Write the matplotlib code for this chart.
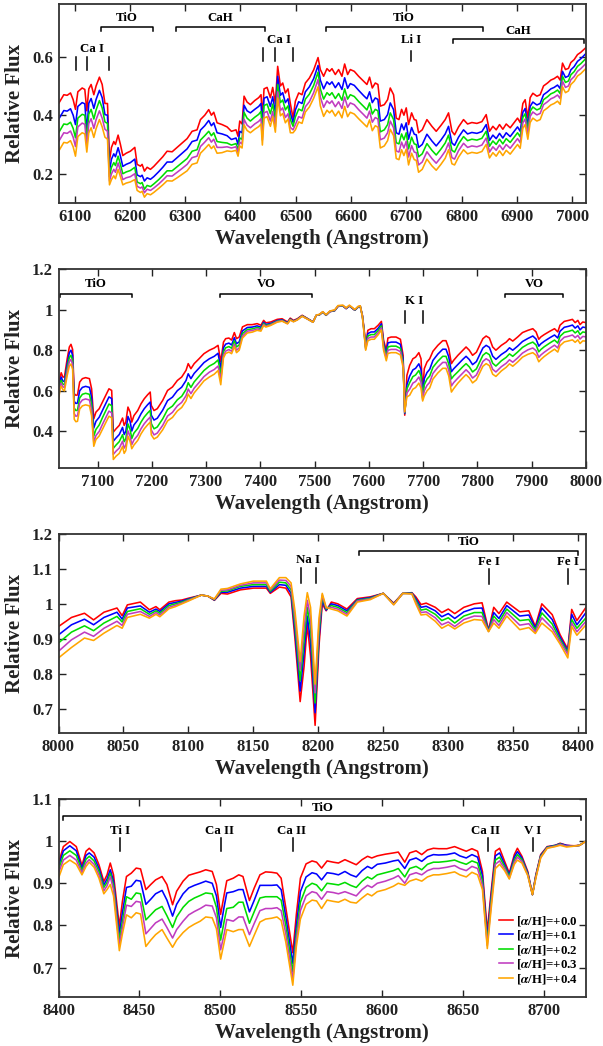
import matplotlib
matplotlib.use("Agg")
import matplotlib.pyplot as plt
from matplotlib.ticker import FuncFormatter

plt.rcParams['font.family'] = ['Liberation Serif', 'DejaVu Serif']
plt.rcParams['font.weight'] = 'bold'
plt.rcParams['mathtext.fontset'] = 'stix'

# ---------------- data ----------------
series_labels = [r'[$\alpha$/H]=+0.0', r'[$\alpha$/H]=+0.1', r'[$\alpha$/H]=+0.2',
                 r'[$\alpha$/H]=+0.3', r'[$\alpha$/H]=+0.4']
series_colors = ['#ff0000', '#0000ff', '#00dd00', '#c03cc0', '#ffa500']

# panel 1 : 6070 - 7025 A
wl1 = [6070, 6080.6, 6086.7, 6092.7, 6097.5, 6101.7, 6106, 6113.8, 6118.6, 6122.2,
       6125.8, 6130, 6134.9, 6139, 6145, 6150, 6155, 6159.6, 6163.2, 6166.8,
       6171, 6174, 6178.8, 6183, 6187.3, 6193.3, 6201, 6209, 6213.2, 6219.2,
       6222.2, 6226.4, 6231.3, 6237.3, 6243.3, 6252.3, 6259.6, 6267.4, 6276.5, 6285.5,
       6294.5, 6303.6, 6312.6, 6321.6, 6327.7, 6335.5, 6342.7, 6347.5, 6351.8, 6357.8,
       6366.8, 6375.9, 6383.7, 6392.1, 6395.7, 6398.8, 6403, 6406.6, 6412, 6418,
       6425.9, 6433.1, 6437.3, 6439.7, 6442.7, 6448.2, 6454.2, 6458.4, 6463.2, 6467.4,
       6472.3, 6476.5, 6481.3, 6486.1, 6490.3, 6495.2, 6499.4, 6505.4, 6511.4, 6517.5,
       6524.7, 6532.5, 6540.4, 6544.5, 6550.5, 6556.5, 6561.3, 6565.6, 6571.6, 6577.6,
       6583.6, 6588.5, 6593.9, 6598.7, 6605.9, 6613.8, 6622.8, 6628.8, 6633.6, 6638.5,
       6643.9, 6648.7, 6653, 6660.2, 6666.2, 6671, 6677, 6681.8, 6686.7, 6691.5,
       6695.7, 6699.9, 6704.1, 6709.6, 6714.4, 6718, 6722.2, 6728.8, 6737.3, 6746.3,
       6754.1, 6762.6, 6770.4, 6776.4, 6782.5, 6787.3, 6794.5, 6803.5, 6810.8, 6818.6,
       6827.7, 6836.7, 6844.5, 6850.5, 6856.6, 6862.6, 6868.6, 6874.6, 6880.7, 6887.9,
       6895.1, 6901.2, 6906, 6910.8, 6915, 6919.8, 6924, 6928.9, 6936.1, 6942.1,
       6948.2, 6955.4, 6961.4, 6967.4, 6973.5, 6978.3, 6982.5, 6987.9, 6993.3, 6997.6,
       7003.6, 7009.6, 7015.6, 7025.5]
p1_a00 = [.436, .470, .468, .476, .453, .420, .480, .493, .488, .415,
          .490, .505, .470, .500, .530, .505, .440, .440, .245, .290,
          .310, .300, .332, .300, .262, .270, .277, .290, .232, .226,
          .232, .209, .222, .215, .225, .243, .258, .277, .275, .290,
          .305, .320, .345, .350, .385, .400, .419, .400, .410, .374,
          .368, .360, .345, .350, .328, .380, .370, .465, .445, .436,
          .450, .460, .470, .390, .490, .495, .460, .495, .440, .567,
          .500, .510, .476, .490, .440, .390, .448, .476, .470, .510,
          .527, .555, .597, .556, .533, .559, .550, .559, .539, .556,
          .533, .575, .539, .556, .550, .533, .516, .505, .530, .493,
          .510, .505, .431, .436, .453, .493, .470, .390, .385, .420,
          .400, .425, .368, .408, .385, .383, .340, .350, .385, .362,
          .345, .365, .385, .408, .345, .333, .360, .385, .370, .375,
          .372, .378, .402, .345, .362, .350, .368, .352, .370, .357,
          .375, .390, .375, .440, .453, .390, .460, .475, .465, .470,
          .500, .510, .520, .525, .533, .520, .578, .556, .560, .580,
          .590, .607, .615, .632]
p1_a01 = [.382, .416, .414, .422, .400, .368, .430, .443, .439, .345,
          .441, .457, .423, .454, .485, .460, .402, .400, .210, .250,
          .268, .258, .289, .260, .225, .232, .238, .250, .196, .190,
          .195, .175, .186, .181, .190, .207, .222, .240, .240, .255,
          .270, .285, .310, .315, .349, .364, .382, .364, .374, .340,
          .336, .330, .317, .322, .300, .345, .340, .434, .415, .408,
          .420, .430, .440, .362, .458, .463, .430, .463, .410, .533,
          .468, .477, .443, .456, .408, .375, .418, .446, .440, .480,
          .497, .525, .570, .520, .490, .514, .505, .514, .494, .511,
          .488, .528, .492, .508, .502, .485, .467, .456, .480, .443,
          .459, .454, .380, .385, .402, .442, .419, .340, .335, .370,
          .350, .374, .318, .358, .335, .333, .290, .300, .335, .312,
          .295, .315, .336, .362, .305, .297, .325, .350, .336, .341,
          .338, .344, .368, .314, .332, .320, .338, .322, .340, .327,
          .345, .360, .345, .410, .423, .365, .430, .445, .435, .440,
          .470, .480, .490, .495, .503, .491, .550, .529, .534, .555,
          .566, .584, .593, .612]
p1_a02 = [.336, .370, .368, .376, .355, .323, .390, .403, .400, .317,
          .404, .420, .387, .418, .450, .425, .377, .372, .190, .222,
          .238, .228, .260, .232, .200, .206, .211, .222, .172, .166,
          .170, .147, .160, .156, .165, .180, .194, .210, .210, .224,
          .238, .252, .277, .282, .315, .330, .345, .330, .340, .310,
          .307, .305, .298, .303, .282, .322, .318, .410, .390, .380,
          .393, .403, .413, .337, .433, .438, .405, .438, .385, .505,
          .443, .452, .418, .432, .385, .362, .394, .421, .415, .455,
          .472, .502, .547, .490, .455, .477, .468, .477, .457, .474,
          .451, .490, .455, .470, .464, .447, .430, .418, .442, .404,
          .420, .415, .343, .350, .368, .408, .385, .306, .302, .336,
          .316, .340, .285, .325, .302, .300, .258, .268, .303, .280,
          .264, .284, .305, .332, .280, .274, .302, .327, .313, .318,
          .315, .321, .345, .294, .312, .300, .318, .302, .320, .307,
          .325, .340, .326, .392, .405, .350, .413, .428, .418, .423,
          .453, .463, .473, .478, .486, .474, .533, .512, .517, .538,
          .549, .567, .576, .595]
p1_a03 = [.306, .340, .338, .346, .325, .293, .360, .373, .369, .294,
          .372, .388, .355, .385, .415, .390, .352, .345, .175, .200,
          .215, .205, .237, .210, .180, .186, .190, .200, .157, .151,
          .155, .135, .147, .143, .151, .165, .178, .193, .192, .205,
          .218, .232, .255, .260, .293, .308, .323, .308, .318, .290,
          .290, .292, .288, .292, .272, .308, .302, .386, .366, .357,
          .370, .379, .388, .315, .408, .413, .380, .413, .360, .480,
          .416, .425, .392, .405, .358, .350, .368, .395, .390, .429,
          .446, .477, .522, .462, .427, .449, .440, .449, .429, .446,
          .423, .462, .427, .442, .436, .419, .402, .390, .414, .376,
          .392, .387, .316, .322, .340, .380, .357, .278, .274, .308,
          .288, .311, .257, .296, .274, .272, .230, .240, .275, .252,
          .236, .256, .277, .305, .255, .250, .279, .304, .290, .295,
          .292, .298, .322, .274, .292, .280, .298, .282, .300, .287,
          .305, .320, .306, .374, .387, .335, .396, .411, .401, .406,
          .436, .446, .456, .461, .469, .457, .516, .495, .500, .521,
          .532, .550, .559, .578]
p1_a04 = [.273, .307, .305, .313, .292, .260, .327, .340, .336, .274,
          .340, .357, .324, .354, .385, .360, .325, .318, .162, .180,
          .193, .183, .215, .190, .162, .168, .172, .180, .143, .136,
          .140, .120, .132, .128, .136, .150, .162, .176, .175, .186,
          .198, .210, .232, .237, .270, .285, .300, .286, .295, .270,
          .272, .278, .276, .280, .260, .295, .288, .367, .348, .340,
          .352, .361, .370, .298, .390, .395, .362, .395, .342, .459,
          .398, .406, .374, .387, .340, .340, .350, .377, .372, .411,
          .428, .458, .497, .432, .396, .417, .408, .417, .397, .414,
          .391, .430, .395, .410, .404, .388, .371, .360, .384, .347,
          .364, .359, .288, .295, .313, .352, .330, .252, .248, .282,
          .262, .284, .230, .270, .248, .246, .205, .215, .250, .227,
          .212, .232, .253, .282, .234, .230, .257, .282, .268, .273,
          .270, .276, .300, .254, .272, .260, .278, .262, .280, .267,
          .285, .300, .287, .355, .368, .318, .375, .390, .380, .385,
          .415, .425, .435, .440, .448, .437, .497, .477, .483, .505,
          .516, .534, .542, .561]

# panel 2 : 7028 - 8000 A
wl2 = [7028, 7031, 7033, 7036, 7039, 7044, 7048, 7051, 7054, 7057,
       7060, 7063, 7067, 7072, 7078, 7085, 7089, 7093, 7097, 7103,
       7109, 7115, 7121, 7126, 7129, 7134, 7140, 7146, 7149, 7152,
       7156, 7160, 7163, 7167, 7174, 7180, 7186, 7192, 7197, 7199,
       7204, 7210, 7220, 7229, 7238, 7247, 7255, 7263, 7267, 7272,
       7278, 7287, 7296, 7306, 7315, 7322, 7327, 7332, 7336, 7342,
       7347, 7352, 7356, 7361, 7367, 7376, 7385, 7394, 7401, 7406,
       7410, 7419, 7431, 7440, 7450, 7455, 7461, 7468, 7477, 7487,
       7497, 7503, 7509, 7515, 7521, 7528, 7537, 7543, 7552, 7558,
       7564, 7574, 7580, 7584, 7588, 7591, 7594, 7598, 7604, 7610,
       7617, 7623, 7627, 7632, 7635, 7641, 7650, 7658, 7663, 7666,
       7670, 7675, 7681, 7686, 7692, 7696, 7699, 7702, 7707, 7712,
       7718, 7727, 7736, 7742, 7747, 7752, 7756, 7764, 7773, 7779,
       7785, 7791, 7798, 7804, 7810, 7816, 7822, 7828, 7834, 7844,
       7853, 7859, 7865, 7874, 7883, 7893, 7902, 7908, 7913, 7917,
       7923, 7933, 7942, 7948, 7952, 7960, 7968, 7975, 7980, 7985,
       7989, 7994, 8000]
p2_a00 = [.590, .668, .689, .668, .668, .758, .816, .829, .804, .586,
          .578, .580, .643, .660, .665, .660, .610, .462, .495, .512,
          .545, .578, .610, .602, .397, .413, .430, .466, .430, .446,
          .520, .495, .446, .478, .503, .536, .561, .580, .594, .528,
          .503, .512, .553, .602, .619, .651, .668, .701, .734, .709,
          .734, .758, .783, .800, .811, .824, .742, .840, .857, .860,
          .850, .887, .857, .865, .915, .926, .926, .931, .923, .947,
          .935, .939, .952, .955, .939, .958, .947, .955, .972, .956,
          .940, .972, .975, .988, .972, .990, .995, 1.016, 1.018, 1.005,
          1.018, .997, 1.012, 1.016, .972, .906, .824, .898, .906, .906,
          .923, .942, .849, .800, .860, .865, .865, .854, .775, .480,
          .676, .725, .758, .766, .788, .758, .594, .709, .742, .758,
          .795, .824, .847, .847, .810, .734, .750, .775, .800, .816,
          .800, .775, .790, .824, .857, .870, .860, .816, .800, .824,
          .840, .857, .845, .865, .887, .898, .906, .890, .854, .866,
          .877, .893, .906, .890, .923, .942, .947, .952, .936, .947,
          .926, .939, .936]
p2_a01 = [.578, .650, .668, .648, .646, .732, .788, .800, .775, .548,
          .538, .540, .600, .617, .622, .617, .567, .417, .450, .470,
          .504, .537, .570, .562, .352, .368, .385, .420, .385, .400,
          .474, .449, .402, .432, .456, .487, .512, .531, .545, .480,
          .456, .465, .505, .552, .569, .601, .618, .651, .684, .660,
          .686, .712, .739, .758, .770, .785, .710, .812, .830, .835,
          .826, .862, .832, .841, .895, .912, .914, .920, .913, .938,
          .927, .932, .946, .950, .935, .954, .944, .952, .970, .955,
          .939, .972, .975, .988, .972, .990, .995, 1.016, 1.018, 1.005,
          1.018, .997, 1.012, 1.016, .970, .900, .815, .882, .890, .890,
          .908, .930, .835, .785, .836, .840, .840, .829, .755, .488,
          .630, .672, .703, .711, .733, .705, .575, .660, .690, .706,
          .750, .781, .805, .805, .768, .694, .708, .730, .755, .770,
          .754, .729, .744, .778, .811, .824, .814, .771, .755, .779,
          .795, .812, .800, .820, .843, .858, .870, .855, .820, .832,
          .844, .861, .875, .860, .893, .913, .918, .924, .909, .920,
          .900, .914, .911]
p2_a02 = [.570, .636, .652, .633, .630, .712, .764, .775, .750, .515,
          .503, .505, .565, .583, .588, .583, .533, .377, .410, .432,
          .468, .502, .535, .527, .317, .333, .350, .384, .350, .364,
          .437, .410, .365, .392, .415, .446, .471, .490, .504, .439,
          .413, .422, .462, .508, .525, .556, .573, .607, .640, .617,
          .644, .672, .700, .722, .735, .752, .682, .792, .812, .818,
          .810, .846, .816, .826, .882, .902, .905, .912, .906, .932,
          .922, .928, .943, .947, .933, .952, .942, .951, .969, .954,
          .938, .972, .975, .988, .973, .991, .996, 1.017, 1.019, 1.006,
          1.019, .998, 1.013, 1.017, .968, .895, .810, .870, .877, .877,
          .897, .920, .823, .772, .816, .820, .820, .809, .740, .492,
          .610, .640, .670, .678, .700, .673, .565, .630, .658, .673,
          .716, .746, .770, .770, .733, .659, .673, .694, .719, .734,
          .718, .693, .708, .742, .775, .788, .778, .736, .722, .748,
          .765, .782, .770, .791, .814, .830, .840, .826, .792, .804,
          .817, .835, .850, .835, .868, .888, .893, .899, .885, .896,
          .877, .890, .887]
p2_a03 = [.562, .624, .638, .620, .616, .695, .744, .755, .730, .488,
          .475, .477, .538, .555, .560, .555, .505, .347, .380, .400,
          .435, .468, .500, .492, .287, .303, .318, .352, .318, .332,
          .403, .376, .335, .358, .381, .413, .438, .457, .471, .407,
          .383, .392, .430, .476, .494, .526, .543, .576, .609, .586,
          .613, .641, .670, .692, .705, .722, .655, .775, .796, .803,
          .795, .830, .800, .811, .870, .894, .897, .905, .900, .927,
          .918, .925, .941, .945, .931, .950, .941, .950, .968, .953,
          .938, .972, .976, .989, .974, .992, .997, 1.018, 1.020, 1.007,
          1.020, .999, 1.014, 1.018, .966, .890, .805, .858, .865, .865,
          .886, .910, .812, .760, .800, .804, .804, .793, .728, .495,
          .590, .608, .638, .646, .668, .642, .558, .600, .627, .642,
          .686, .716, .740, .740, .703, .624, .640, .663, .688, .704,
          .688, .663, .678, .712, .745, .758, .748, .706, .693, .719,
          .736, .753, .741, .762, .786, .802, .811, .798, .765, .777,
          .790, .809, .825, .811, .844, .864, .869, .875, .862, .873,
          .855, .868, .866]
p2_a04 = [.555, .610, .623, .606, .600, .675, .722, .732, .707, .460,
          .448, .450, .510, .526, .531, .526, .477, .327, .360, .378,
          .411, .443, .475, .467, .262, .278, .292, .326, .292, .306,
          .377, .350, .315, .333, .356, .388, .413, .432, .446, .383,
          .363, .372, .408, .452, .469, .501, .518, .551, .584, .562,
          .590, .619, .649, .668, .682, .700, .630, .762, .784, .791,
          .783, .818, .788, .800, .860, .885, .889, .898, .894, .922,
          .914, .922, .938, .943, .930, .949, .940, .949, .967, .953,
          .938, .973, .977, .990, .975, .993, .999, 1.020, 1.022, 1.009,
          1.022, 1.001, 1.016, 1.019, .964, .885, .800, .846, .854, .854,
          .876, .900, .800, .748, .784, .788, .788, .777, .715, .498,
          .570, .578, .608, .616, .638, .613, .550, .575, .600, .614,
          .658, .688, .711, .711, .674, .594, .610, .638, .664, .680,
          .664, .639, .654, .688, .721, .734, .724, .682, .671, .698,
          .716, .733, .721, .742, .766, .780, .788, .775, .743, .755,
          .769, .789, .805, .791, .822, .841, .846, .851, .839, .851,
          .833, .846, .845]

# panel 3 : 8000 - 8406 A
wl3 = [8000, 8010, 8020, 8027, 8035, 8045, 8049, 8053, 8063, 8070,
       8075, 8078, 8085, 8090, 8095, 8100, 8110, 8115, 8120, 8125,
       8130, 8140, 8150, 8160, 8163, 8170, 8175, 8179, 8182, 8186,
       8189, 8191.5, 8194, 8197.5, 8200.5, 8203, 8206, 8210, 8215, 8222,
       8230, 8240, 8250, 8258, 8265, 8272, 8275, 8279, 8283, 8290,
       8295, 8300, 8305, 8312, 8320, 8326, 8331, 8335, 8339, 8345,
       8355, 8362, 8367, 8372, 8380, 8386, 8392, 8395, 8399, 8406]
p3_a00 = [.935, .961, .973, .954, .976, .988, .966, .997, 1.005, .983,
          .992, .983, 1.005, 1.009, 1.011, 1.016, 1.025, 1.022, 1.010, 1.030,
          1.028, 1.040, 1.045, 1.045, 1.030, 1.048, 1.045, 1.020, .900, .720,
          .820, .940, .850, .652, .880, 1.000, .980, 1.005, 1.000, .985,
          1.015, 1.020, 1.030, 1.002, 1.030, 1.032, 1.020, .998, 1.002, .990,
          .975, .985, .972, .990, 1.000, 1.003, .925, .990, .972, 1.005,
          .977, .980, .935, 1.000, .969, .912, .870, .984, .952, .990]
p3_a01 = [.911, .940, .956, .940, .961, .976, .956, .988, .994, .976,
          .985, .978, 1.000, 1.004, 1.008, 1.014, 1.025, 1.022, 1.011, 1.033,
          1.033, 1.045, 1.050, 1.050, 1.033, 1.055, 1.053, 1.030, .920, .750,
          .860, .965, .890, .688, .900, 1.010, .982, 1.000, .995, .980,
          1.012, 1.018, 1.030, 1.000, 1.030, 1.031, 1.015, .990, .993, .980,
          .963, .972, .958, .977, .987, .988, .923, .975, .958, .995,
          .965, .968, .930, .988, .955, .905, .865, .970, .940, .975]
p3_a02 = [.888, .919, .937, .923, .945, .964, .948, .978, .986, .970,
          .980, .973, .995, 1.000, 1.005, 1.012, 1.025, 1.022, 1.012, 1.036,
          1.037, 1.050, 1.055, 1.055, 1.036, 1.062, 1.060, 1.040, .940, .780,
          .895, .990, .930, .716, .920, 1.020, .985, .995, .990, .975,
          1.010, 1.016, 1.030, .999, 1.030, 1.030, 1.010, .982, .985, .970,
          .952, .960, .945, .965, .975, .975, .922, .965, .948, .985,
          .952, .955, .925, .974, .942, .898, .860, .955, .930, .960]
p3_a03 = [.864, .897, .919, .907, .930, .950, .938, .970, .978, .964,
          .975, .968, .990, .996, 1.002, 1.010, 1.025, 1.022, 1.013, 1.039,
          1.040, 1.053, 1.060, 1.060, 1.040, 1.068, 1.067, 1.050, .960, .810,
          .930, 1.010, .960, .745, .940, 1.025, .988, .990, .985, .970,
          1.008, 1.014, 1.030, .998, 1.030, 1.029, 1.005, .975, .977, .960,
          .940, .948, .935, .955, .965, .964, .921, .955, .938, .975,
          .939, .943, .920, .960, .930, .892, .855, .945, .920, .950]
p3_a04 = [.845, .875, .902, .895, .916, .938, .930, .961, .970, .959,
          .970, .963, .986, .992, 1.000, 1.008, 1.025, 1.022, 1.014, 1.042,
          1.044, 1.057, 1.065, 1.065, 1.043, 1.075, 1.075, 1.060, .980, .835,
          .965, 1.032, .990, .770, .960, 1.030, .990, .985, .980, .965,
          1.005, 1.012, 1.030, .997, 1.030, 1.028, 1.000, .968, .970, .950,
          .930, .940, .928, .945, .955, .953, .920, .945, .930, .965,
          .926, .932, .915, .945, .920, .885, .845, .935, .910, .940]

# panel 4 : 8400 - 8726 A
wl4 = [8400, 8403, 8407, 8411, 8414.5, 8417, 8419, 8422, 8425, 8428,
       8430, 8432, 8434, 8437.6, 8439.5, 8442, 8445, 8448, 8450.7, 8454,
       8457, 8460, 8464, 8467, 8470.5, 8473, 8477, 8480.5, 8484, 8487.6,
       8491, 8495, 8497.6, 8500.2, 8502.4, 8504, 8508, 8511.4, 8514, 8518,
       8521, 8524.5, 8528, 8531.7, 8535, 8537.6, 8540.5, 8544.8, 8547, 8549.5,
       8553, 8556.7, 8559.5, 8562.6, 8566, 8569.8, 8573, 8577, 8580.5, 8584,
       8587.6, 8591, 8593.6, 8597, 8602, 8607, 8610, 8614, 8617, 8621,
       8624.5, 8628, 8631.7, 8635, 8640, 8644.8, 8648, 8652, 8655.5, 8659,
       8662, 8665, 8667.4, 8670, 8672.6, 8675.7, 8678.6, 8681.7, 8683.6, 8686.4,
       8690, 8692.9, 8695, 8698, 8702, 8707, 8710, 8714, 8718.6, 8722,
       8726]
p4_a00 = [.948, .987, .999, .987, .942, .976, .983, .972, .944, .904,
          .920, .948, .920, .798, .857, .916, .924, .936, .934, .885,
          .897, .908, .916, .897, .849, .881, .905, .919, .923, .927,
          .932, .928, .897, .826, .873, .906, .912, .920, .916, .859,
          .889, .920, .927, .926, .924, .912, .841, .735, .826, .912,
          .946, .953, .950, .936, .953, .950, .948, .956, .950, .944,
          .956, .964, .960, .965, .969, .972, .974, .950, .972, .977,
          .968, .979, .983, .982, .982, .987, .982, .976, .982, .976,
          .928, .786, .881, .976, .983, .952, .924, .968, .983, .964,
          .928, .873, .920, .968, .987, .990, .995, .990, .989, .990,
          1.000]
p4_a01 = [.940, .977, .989, .977, .935, .966, .972, .962, .935, .896,
          .910, .932, .905, .780, .830, .890, .893, .907, .905, .850,
          .862, .875, .883, .860, .822, .850, .875, .889, .895, .900,
          .905, .900, .870, .795, .845, .877, .880, .885, .885, .832,
          .860, .895, .895, .895, .896, .885, .820, .710, .800, .880,
          .915, .925, .922, .908, .925, .923, .920, .928, .920, .915,
          .930, .940, .935, .945, .948, .953, .955, .935, .955, .960,
          .952, .963, .968, .967, .968, .972, .965, .960, .968, .962,
          .918, .770, .870, .965, .972, .945, .920, .962, .975, .960,
          .925, .873, .918, .966, .986, .990, .994, .990, .988, .990,
          1.000]
p4_a02 = [.932, .966, .977, .966, .930, .957, .964, .953, .928, .890,
          .902, .924, .895, .765, .810, .868, .862, .877, .875, .813,
          .825, .837, .845, .823, .795, .820, .843, .857, .865, .871,
          .877, .875, .843, .765, .810, .840, .843, .855, .855, .805,
          .833, .865, .868, .868, .868, .860, .800, .690, .780, .855,
          .890, .900, .896, .882, .900, .898, .896, .902, .895, .890,
          .905, .915, .910, .920, .925, .930, .935, .915, .935, .940,
          .932, .945, .950, .950, .952, .955, .950, .945, .953, .948,
          .905, .760, .860, .955, .962, .940, .916, .955, .968, .956,
          .922, .873, .916, .964, .985, .989, .993, .988, .988, .990,
          1.000]
p4_a03 = [.924, .955, .966, .955, .925, .948, .956, .945, .920, .882,
          .894, .916, .885, .752, .795, .848, .845, .857, .855, .780,
          .793, .806, .815, .795, .770, .790, .810, .825, .833, .840,
          .848, .846, .818, .742, .780, .814, .810, .820, .820, .778,
          .805, .835, .840, .840, .842, .835, .780, .672, .765, .835,
          .870, .880, .877, .862, .880, .878, .875, .880, .875, .870,
          .885, .895, .890, .900, .905, .912, .918, .900, .920, .925,
          .920, .930, .935, .935, .938, .942, .935, .930, .940, .935,
          .895, .752, .850, .945, .953, .935, .912, .950, .962, .952,
          .920, .873, .914, .962, .984, .988, .992, .988, .988, .990,
          1.000]
p4_a04 = [.912, .944, .955, .945, .920, .940, .950, .938, .912, .875,
          .885, .897, .870, .740, .780, .825, .818, .830, .827, .750,
          .765, .778, .790, .770, .748, .765, .783, .795, .803, .810,
          .820, .818, .792, .720, .760, .790, .785, .790, .790, .750,
          .777, .808, .815, .817, .820, .812, .760, .658, .750, .815,
          .850, .860, .858, .840, .860, .857, .855, .862, .855, .853,
          .865, .875, .870, .880, .885, .893, .900, .895, .905, .910,
          .905, .915, .920, .920, .923, .927, .920, .915, .926, .920,
          .885, .745, .840, .935, .945, .930, .910, .945, .955, .948,
          .918, .873, .912, .960, .983, .987, .990, .986, .988, .990,
          1.000]

# feature marks: (label, x_start, x_end, y, label_y) for bands,
# (label, [line positions], y_low, y_high, label_x, label_y) for atomic lines
bands_p1 = [('TiO', 6147, 6242, 0.700, 0.732), ('CaH', 6283, 6445, 0.700, 0.732),
            ('TiO', 6554, 6838, 0.700, 0.732), ('CaH', 6784, 7021, 0.660, 0.689)]
lines_p1 = [('Ca I', [6103, 6123, 6163], 0.555, 0.598, 6132, 0.627),
            ('Ca I', [6440.5, 6463, 6495.5], 0.584, 0.630, 6469, 0.658),
            ('Li I', [6709], 0.584, 0.621, 6709, 0.658)]
bands_p2 = [('TiO', 7031, 7164, 1.079, 1.128), ('VO', 7326, 7496, 1.079, 1.128),
            ('VO', 7850, 7958, 1.079, 1.128)]
lines_p2 = [('K I', [7666, 7700], 0.934, 0.993, 7683, 1.040)]
bands_p3 = [('TiO', 8231.5, 8400, 1.151, 1.176)]
lines_p3 = [('Na I', [8186.5, 8198], 1.060, 1.102, 8192, 1.126),
            ('Fe I', [8331], 1.058, 1.099, 8331, 1.121),
            ('Fe I', [8392], 1.058, 1.099, 8392, 1.121)]
bands_p4 = [('TiO', 8403, 8723, 1.059, 1.078)]
lines_p4 = [('Ti I', [8438], 0.976, 1.007, 8438, 1.025),
            ('Ca II', [8500.2], 0.976, 1.007, 8499.5, 1.025),
            ('Ca II', [8544.8], 0.976, 1.007, 8544, 1.025),
            ('Ca II', [8665.5], 0.976, 1.007, 8664, 1.025),
            ('V I', [8693.3], 0.976, 1.007, 8693, 1.025)]

panels = [
    dict(wl=wl1, flux=[p1_a00, p1_a01, p1_a02, p1_a03, p1_a04], xlim=(6071, 7025),
         ylim=(0.10, 0.78), xticks=range(6100, 7001, 100), yticks=[0.2, 0.4, 0.6],
         bands=bands_p1, lines=lines_p1, tick=0.012, box=(4, 203)),
    dict(wl=wl2, flux=[p2_a00, p2_a01, p2_a02, p2_a03, p2_a04], xlim=(7028, 8000),
         ylim=(0.22, 1.2), xticks=range(7100, 8001, 100), yticks=[0.4, 0.6, 0.8, 1.0, 1.2],
         bands=bands_p2, lines=lines_p2, tick=0.016, box=(269, 468)),
    dict(wl=wl3, flux=[p3_a00, p3_a01, p3_a02, p3_a03, p3_a04], xlim=(8000, 8406),
         ylim=(0.63, 1.2), xticks=range(8000, 8401, 50), yticks=[0.7, 0.8, 0.9, 1.0, 1.1, 1.2],
         bands=bands_p3, lines=lines_p3, tick=0.010, box=(534, 733)),
    dict(wl=wl4, flux=[p4_a00, p4_a01, p4_a02, p4_a03, p4_a04], xlim=(8400, 8726),
         ylim=(0.63, 1.1), xticks=range(8400, 8701, 50), yticks=[0.7, 0.8, 0.9, 1.0, 1.1],
         bands=bands_p4, lines=lines_p4, tick=0.009, box=(799, 997)),
]

W, H = 603, 1046
fig = plt.figure(figsize=(W / 100, H / 100), dpi=100)
left, right = 58.5, 586

fmt = FuncFormatter(lambda v, p: f'{v:g}')

for i, p in enumerate(panels):
    top, bottom = p['box']
    ax = fig.add_axes([left / W, 1 - bottom / H, (right - left) / W, (bottom - top) / H])

    for f, c, lab in zip(p['flux'], series_colors, series_labels):
        ax.plot(p['wl'], f, color=c, lw=1.15, label=lab)

    for lab, x0, x1, y, ly in p['bands']:
        ax.plot([x0, x0, x1, x1], [y - p['tick'], y, y, y - p['tick']], color='k', lw=1.1)
        ax.text((x0 + x1) / 2, ly, lab, ha='center', va='center', fontsize=9.3, fontweight='bold')
    for lab, xs, y0, y1, lx, ly in p['lines']:
        for x in xs:
            ax.plot([x, x], [y0, y1], color='k', lw=1.1)
        ax.text(lx, ly, lab, ha='center', va='center', fontsize=9.3, fontweight='bold')

    ax.set_xlim(*p['xlim'])
    ax.set_ylim(*p['ylim'])
    ax.set_xticks(list(p['xticks']))
    ax.set_yticks(p['yticks'])
    ax.yaxis.set_major_formatter(fmt)
    ax.tick_params(direction='in', top=True, right=True, length=5, width=1,
                   labelsize=12, pad=4, colors='#222222')
    for s in ax.spines.values():
        s.set_linewidth(1.3)
        s.set_color('#333333')
    ax.set_xlabel('Wavelength (Angstrom)', fontsize=15, fontweight='bold', labelpad=3,
                  color='#222222')
    ax.set_ylabel('Relative Flux', fontsize=15, fontweight='bold', labelpad=5,
                  color='#222222')

    if i == 3:
        ax.legend(loc='lower right', bbox_to_anchor=(0.985, 0.055), frameon=False,
                  fontsize=9.3, handlelength=1.1, handletextpad=0.2, labelspacing=0.05,
                  borderpad=0, borderaxespad=0)

fig.savefig('out.png', dpi=100)
